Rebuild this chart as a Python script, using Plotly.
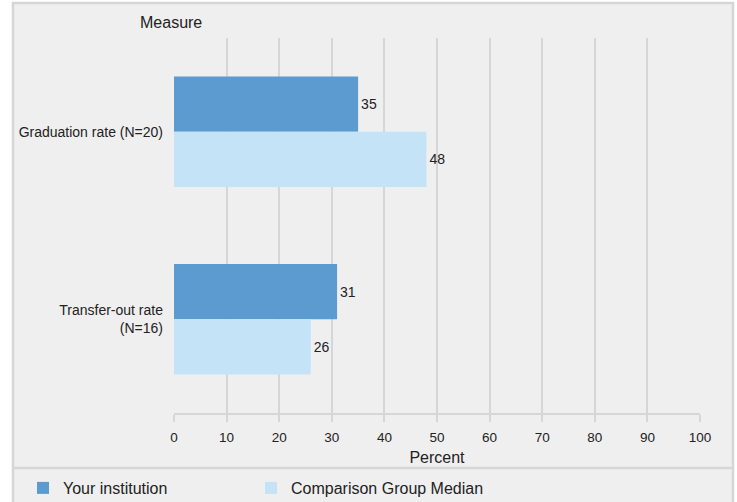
import plotly.graph_objects as go

categories = ["Graduation rate (N=20)", "Transfer-out rate<br>(N=16)"]
your_institution = [35, 31]
comparison_median = [48, 26]
x_ticks = [0, 10, 20, 30, 40, 50, 60, 70, 80, 90, 100]

W, H = 737, 502
L, R, T, B = 174, 37, 38, 89
pw, ph = W - L - R, H - T - B

def px(x):
    return (x - L) / pw

def py(y):
    return (H - B - y) / ph

FAM = "Liberation Sans, Arial, sans-serif"
TXT = "#222222"
GRID = "#d6d6d6"

fig = go.Figure()
fig.add_trace(go.Bar(
    y=categories, x=your_institution, orientation="h", name="Your institution",
    marker=dict(color="#5b9bd0", line=dict(width=0)),
    text=your_institution, textposition="outside", cliponaxis=False,
    textfont=dict(size=14, color=TXT, family=FAM), legend="legend",
))
fig.add_trace(go.Bar(
    y=categories, x=comparison_median, orientation="h", name="Comparison Group Median",
    marker=dict(color="#c5e3f6", line=dict(width=0)),
    text=comparison_median, textposition="outside", cliponaxis=False,
    textfont=dict(size=14, color=TXT, family=FAM), legend="legend2",
))

leg_common = dict(orientation="h", xref="container", yref="container",
                  xanchor="left", yanchor="middle", bgcolor="rgba(0,0,0,0)",
                  font=dict(size=16, color=TXT, family=FAM))

fig.update_layout(
    width=W, height=H, autosize=False,
    margin=dict(l=L, r=R, t=T, b=B, pad=0, autoexpand=False),
    paper_bgcolor="white", plot_bgcolor="#efefef",
    font=dict(family=FAM, size=14, color=TXT),
    barmode="group", bargap=0.41, bargroupgap=0,
    showlegend=True,
    legend=dict(x=23 / W, y=(H - 488) / H, **leg_common),
    legend2=dict(x=251 / W, y=(H - 488) / H, **leg_common),
    xaxis=dict(range=[0, 100], tickvals=x_ticks, showgrid=True, gridcolor=GRID, gridwidth=2,
               zeroline=False, showline=True, linecolor=GRID, linewidth=2,
               ticks="outside", ticklen=7, tickcolor=GRID, tickwidth=2,
               ticklabelstandoff=4, tickfont=dict(size=13.5, color=TXT, family=FAM),
               title=dict(text="Percent", standoff=8, font=dict(size=16, color=TXT, family=FAM)),
               automargin=False, fixedrange=True),
    yaxis=dict(autorange="reversed", showgrid=False, zeroline=False, showline=False,
               ticks="", ticklabelstandoff=10, tickfont=dict(size=14, color=TXT, family=FAM),
               automargin=False, fixedrange=True),
    shapes=[
        dict(type="rect", xref="paper", yref="paper", x0=px(13), x1=px(733), y0=py(520), y1=py(3),
             fillcolor="#efefef", line=dict(color=GRID, width=2.5), layer="below"),
        dict(type="line", xref="paper", yref="paper", x0=px(13), x1=px(733), y0=py(468), y1=py(468),
             line=dict(color=GRID, width=2.5), layer="below"),
    ],
    annotations=[
        dict(text="Measure", xref="paper", yref="paper", x=px(171), y=py(22), showarrow=False,
             xanchor="center", yanchor="middle", font=dict(size=16, color=TXT, family=FAM)),
    ],
)

fig.write_html(
    "out.html",
    config={"displayModeBar": False},
    post_script="document.body.style.margin='0';document.body.style.padding='0';"
                "document.documentElement.style.overflow='hidden';document.body.style.overflow='hidden';",
)
